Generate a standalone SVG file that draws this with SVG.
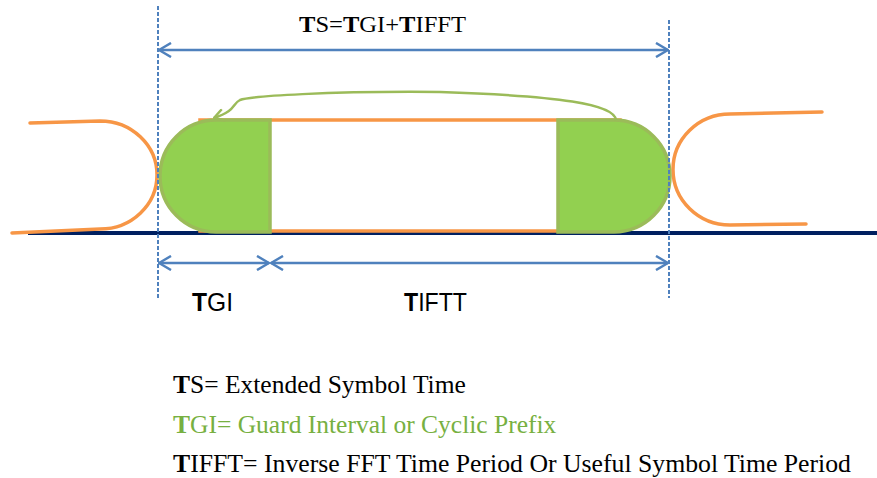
<svg xmlns="http://www.w3.org/2000/svg" width="877" height="478" viewBox="0 0 877 478">
  <style>
    .dash { stroke: #4F81BD; stroke-width: 2; stroke-dasharray: 4 2; fill: none; }
    .dim { stroke: #4F81BD; stroke-width: 2.5; fill: none; marker-start: url(#chev); marker-end: url(#chev); }
    .orange { stroke: #F79646; stroke-width: 3.5; fill: none; stroke-linecap: round; }
    .cap { fill: #92D050; stroke: #9BBB59; stroke-width: 3.5; }
    .serif { font-family: "Liberation Serif", "Times New Roman", serif; fill: #000; }
    .sans { font-family: "Liberation Sans", Arial, sans-serif; fill: #000; }
    .b { font-weight: bold; }
  </style>
  <defs>
    <marker id="chev" viewBox="0 0 14 16" refX="13" refY="8" markerWidth="14" markerHeight="16" markerUnits="userSpaceOnUse" orient="auto-start-reverse">
      <path d="M1,1 L13,8 L1,15" fill="none" stroke="#4F81BD" stroke-width="2.5"/>
    </marker>
    <marker id="garrow" viewBox="0 0 12 14" refX="11" refY="7" markerWidth="12" markerHeight="14" markerUnits="userSpaceOnUse" orient="auto">
      <path d="M1,1 L11,7 L1,13" fill="none" stroke="#9BBB59" stroke-width="2.5"/>
    </marker>
  </defs>
  <rect width="877" height="478" fill="#FFFFFF"/>

  <g id="baseline">
    <line x1="28" y1="233" x2="877" y2="233" stroke="#002060" stroke-width="4"/>
  </g>

  <g id="prev-symbol">
    <path class="orange" d="M30 123 L100 121 A57 54 0 0 1 100 229 L12 233"/>
  </g>

  <g id="next-symbol">
    <path class="orange" d="M822 112 L730 114 A57 55.5 0 0 0 730 225 L806 224"/>
  </g>

  <g id="symbol">
    <rect x="200" y="120" width="420" height="111" class="orange"/>
    <path id="gi-cap" class="cap" d="M270 120 L216 120 A56 56 0 0 0 216 232 L270 232 Z"/>
    <path id="copy-cap" class="cap" d="M558 120 L614 120 A56 56 0 0 1 614 232 L558 232 Z"/>
  </g>

  <g id="connectors">
    <line class="dash" x1="158" y1="6" x2="158" y2="298"/>
    <line class="dash" x1="669" y1="20" x2="669" y2="298"/>
    <line class="dim" x1="159" y1="50" x2="668" y2="50"/>
    <line class="dim" x1="159" y1="263" x2="269" y2="263"/>
    <line class="dim" x1="271" y1="263" x2="668" y2="263"/>
    <path d="M616 120 C614 104 560 96 440 92 C330 91 250 96 240 100 C232 104 236 111 214 118" fill="none" stroke="#9BBB59" stroke-width="2.5" marker-end="url(#garrow)"/>
  </g>

  <g id="labels">
    <text class="serif" x="299" y="32" font-size="24" textLength="167" lengthAdjust="spacingAndGlyphs"><tspan class="b">T</tspan>S=<tspan class="b">T</tspan>GI+<tspan class="b">T</tspan>IFFT</text>
    <text class="sans" x="192" y="311" font-size="25" textLength="41" lengthAdjust="spacingAndGlyphs"><tspan class="b">T</tspan>GI</text>
    <text class="sans" x="404" y="311" font-size="25" textLength="63" lengthAdjust="spacingAndGlyphs"><tspan class="b">T</tspan>IFTT</text>
  </g>

  <g id="legend">
    <text class="serif" x="173" y="393" font-size="25.5"><tspan class="b">T</tspan>S= Extended Symbol Time</text>
    <text class="serif" x="173" y="433" font-size="25.5" style="fill:#77B041"><tspan class="b">T</tspan>GI= Guard Interval or Cyclic Prefix</text>
    <text class="serif" x="173" y="472" font-size="25.5" textLength="678" lengthAdjust="spacingAndGlyphs"><tspan class="b">T</tspan>IFFT= Inverse FFT Time Period Or Useful Symbol Time Period</text>
  </g>
</svg>
